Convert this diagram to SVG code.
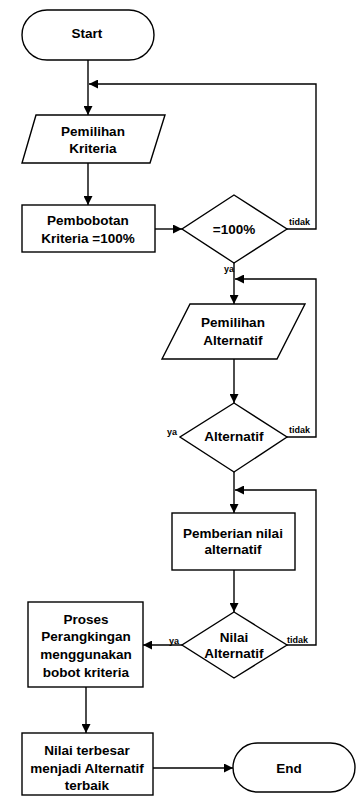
<svg xmlns="http://www.w3.org/2000/svg" width="357" height="797" viewBox="0 0 357 797">
  <style>
    .shape { fill: #fff; stroke: #000; stroke-width: 1.4; }
    .line { fill: none; stroke: #000; stroke-width: 1.4; }
    .t { font-family: "Liberation Sans", Arial, sans-serif; font-weight: bold; font-size: 13.5px; text-anchor: middle; fill: #000; }
    .lbl { font-family: "Liberation Sans", Arial, sans-serif; font-weight: bold; font-size: 9px; fill: #000; }
  </style>
  <defs>
    <marker id="arrow" viewBox="0 0 10 10" refX="10" refY="5" markerWidth="9" markerHeight="9" markerUnits="userSpaceOnUse" orient="auto">
      <path d="M0,0 L10,5 L0,10 z" fill="#000"/>
    </marker>
  </defs>

  <!-- connectors -->
  <g id="connectors">
    <path class="line" d="M88,60 V115" marker-end="url(#arrow)"/>
    <path class="line" d="M88,163 V205" marker-end="url(#arrow)"/>
    <path class="line" d="M155,229 H182" marker-end="url(#arrow)"/>
    <path class="line" d="M287,229 H316 V84 H89" marker-end="url(#arrow)"/>
    <path class="line" d="M234,263 V304" marker-end="url(#arrow)"/>
    <path class="line" d="M287,437 H316 V279 H235" marker-end="url(#arrow)"/>
    <path class="line" d="M234,359 V403" marker-end="url(#arrow)"/>
    <path class="line" d="M234,472 V513" marker-end="url(#arrow)"/>
    <path class="line" d="M287,645 H316 V490 H235" marker-end="url(#arrow)"/>
    <path class="line" d="M234,570 V612" marker-end="url(#arrow)"/>
    <path class="line" d="M182,645 H143" marker-end="url(#arrow)"/>
    <path class="line" d="M86,687 V733" marker-end="url(#arrow)"/>
    <path class="line" d="M153,768 H233" marker-end="url(#arrow)"/>
    <text class="lbl" x="289" y="225">tidak</text>
    <text class="lbl" x="224" y="272">ya</text>
    <text class="lbl" x="167" y="435">ya</text>
    <text class="lbl" x="289" y="433">tidak</text>
    <text class="lbl" x="169" y="644">ya</text>
    <text class="lbl" x="287" y="643">tidak</text>
  </g>

  <g id="start">
    <rect class="shape" x="22" y="10" width="132" height="50" rx="25" ry="25"/>
    <text class="t" x="87" y="38">Start</text>
  </g>

  <g id="pemilihan-kriteria">
    <polygon class="shape" points="36,115 165,115 150,163 22,163"/>
    <text class="t" x="93" y="136">Pemilihan</text>
    <text class="t" x="93" y="153">Kriteria</text>
  </g>

  <g id="pembobotan">
    <rect class="shape" x="22" y="205" width="133" height="47"/>
    <text class="t" x="88" y="225">Pembobotan</text>
    <text class="t" x="88" y="243">Kriteria =100%</text>
  </g>

  <g id="cek-100">
    <polygon class="shape" points="234,195 287,229 234,263 182,229"/>
    <text class="t" x="234" y="234">=100%</text>
  </g>

  <g id="pemilihan-alternatif">
    <polygon class="shape" points="190,304 305,304 277,359 162,359"/>
    <text class="t" x="233" y="327">Pemilihan</text>
    <text class="t" x="233" y="345">Alternatif</text>
  </g>

  <g id="cek-alternatif">
    <polygon class="shape" points="234,403 287,437 234,472 180,437"/>
    <text class="t" x="234" y="441">Alternatif</text>
  </g>

  <g id="pemberian-nilai">
    <rect class="shape" x="172" y="513" width="123" height="57"/>
    <text class="t" x="233" y="538">Pemberian nilai</text>
    <text class="t" x="233" y="554">alternatif</text>
  </g>

  <g id="cek-nilai">
    <polygon class="shape" points="234,612 287,645 234,678 182,645"/>
    <text class="t" x="234" y="642">Nilai</text>
    <text class="t" x="234" y="658">Alternatif</text>
  </g>

  <g id="perangkingan">
    <rect class="shape" x="28" y="602" width="115" height="85"/>
    <text class="t" x="86" y="624">Proses</text>
    <text class="t" x="86" y="641">Perangkingan</text>
    <text class="t" x="86" y="659">menggunakan</text>
    <text class="t" x="86" y="677">bobot kriteria</text>
  </g>

  <g id="nilai-terbesar">
    <rect class="shape" x="22" y="733" width="131" height="62"/>
    <text class="t" x="87" y="755">Nilai terbesar</text>
    <text class="t" x="87" y="773">menjadi Alternatif</text>
    <text class="t" x="87" y="790">terbaik</text>
  </g>

  <g id="end">
    <rect class="shape" x="233" y="743" width="122" height="49" rx="24.5" ry="24.5"/>
    <text class="t" x="289" y="773">End</text>
  </g>
</svg>
